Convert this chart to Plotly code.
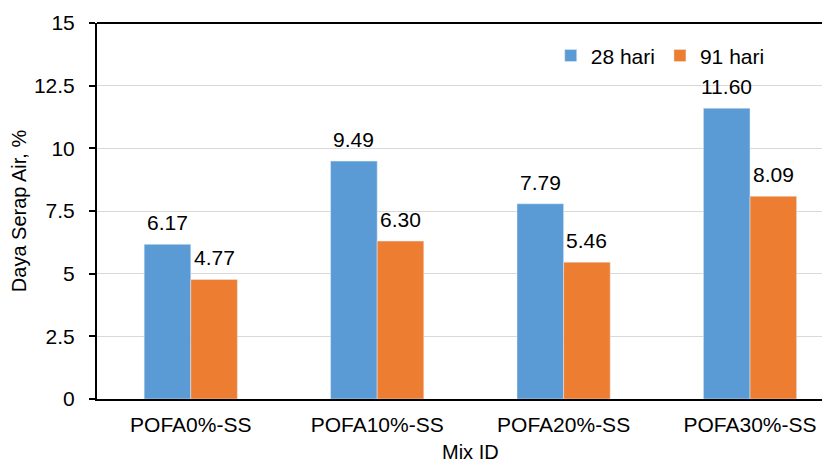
import plotly.graph_objects as go

categories = ["POFA0%-SS", "POFA10%-SS", "POFA20%-SS", "POFA30%-SS"]
hari28 = [6.17, 9.49, 7.79, 11.60]
hari91 = [4.77, 6.30, 5.46, 8.09]
y_ticks = [0, 2.5, 5, 7.5, 10, 12.5, 15]
y_tick_labels = ["0", "2.5", "5", "7.5", "10", "12.5", "15"]

FONT = "Liberation Sans, Arial, sans-serif"
FS = 21

fig = go.Figure()
fig.add_bar(x=categories, y=hari28, name="28 hari", marker_color="#5B9BD5")
fig.add_bar(x=categories, y=hari91, name="91 hari", marker_color="#ED7D31")

# value labels above the bars
annotations = []
for cat, v in zip(categories, hari28):
    annotations.append(dict(x=cat, y=v, xref="x", yref="y", text=f"{v:.2f}",
                            showarrow=False, xshift=-23.3, yanchor="bottom", yshift=8,
                            font=dict(size=FS, color="#000000", family=FONT)))
for cat, v in zip(categories, hari91):
    annotations.append(dict(x=cat, y=v, xref="x", yref="y", text=f"{v:.2f}",
                            showarrow=False, xshift=23.3, yanchor="bottom", yshift=8,
                            font=dict(size=FS, color="#000000", family=FONT)))
# x-axis title (centred on the full, partly cropped plot area)
annotations.append(dict(x=0.509, y=0, xref="paper", yref="paper", yanchor="top",
                        yshift=-40, text="Mix ID", showarrow=False,
                        font=dict(size=FS - 1, color="#000000", family=FONT)))

fig.update_layout(
    width=822, height=453,
    margin=dict(l=89, r=0, t=15, b=62),
    paper_bgcolor="white", plot_bgcolor="white",
    font=dict(family=FONT, size=FS, color="#000000"),
    barmode="group", bargap=0.5, bargroupgap=0,
    showlegend=True,
    legend=dict(orientation="h", x=0.619, y=0.967, xanchor="left", yanchor="top",
                font=dict(size=FS), bgcolor="rgba(0,0,0,0)",
                tracegroupgap=0),
    annotations=annotations,
)
fig.update_yaxes(range=[0, 15], tickvals=y_ticks, ticktext=y_tick_labels,
                 showgrid=True, gridcolor="#D9D9D9", gridwidth=1,
                 showline=True, linecolor="#000000", linewidth=2,
                 ticks="outside", ticklen=6, tickwidth=1.5, tickcolor="#000000",
                 ticklabelstandoff=10,
                 tickfont=dict(size=FS), zeroline=False,
                 title=dict(text="Daya Serap Air, %", font=dict(size=FS - 1), standoff=8))
fig.update_xaxes(range=[-0.503, 3.429],
                 showline=True, linecolor="#000000", linewidth=2, mirror=False,
                 ticks="", tickfont=dict(size=FS), ticklabelstandoff=6)
# top border line
fig.add_shape(type="line", xref="paper", yref="paper", x0=0, x1=1, y0=1, y1=1,
              line=dict(color="#000000", width=2))

fig.write_html("out.html")
